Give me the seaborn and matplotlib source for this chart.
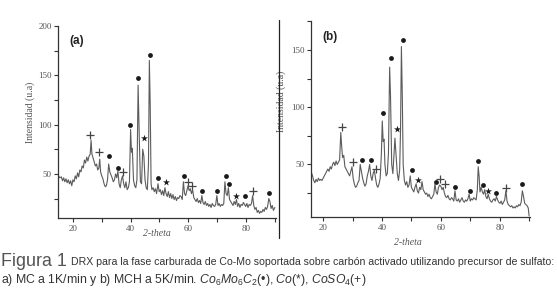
import numpy as np
import pandas as pd
import seaborn as sns
import matplotlib.pyplot as plt
from matplotlib.lines import Line2D

# 1. Pattern (a): MC a 1K/min
a_x = [15.0, 15.5, 16.0, 16.4, 16.8, 17.2, 17.6, 18.0, 18.4, 18.8, 19.2, 19.6, 20.0, 20.4, 20.8,
       21.2, 21.6, 22.0, 22.4, 22.8, 23.2, 23.6, 24.0, 24.4, 24.8, 25.2, 25.6, 26.0, 26.3, 26.6,
       27.0, 27.4, 27.8, 28.2, 28.6, 29.0, 29.3, 29.6, 30.0, 30.4, 30.8, 31.2, 31.6, 32.0, 32.4,
       32.8, 33.2, 33.6, 34.0, 34.4, 34.8, 35.2, 35.6, 36.0, 36.4, 36.8, 37.2, 37.6, 38.0, 38.4,
       38.8, 39.2, 39.6, 40.0, 40.3, 40.6, 41.0, 41.4, 41.8, 42.2, 42.6, 43.0, 43.4, 43.8, 44.2,
       44.6, 45.0, 45.4, 45.8, 46.2, 46.5, 46.8, 47.1, 47.4, 47.8, 48.2, 48.6, 49.0, 49.5, 49.9,
       50.3, 50.7, 51.1, 51.5, 51.9, 52.3, 52.7, 53.1, 53.5, 53.9, 54.3, 54.7, 55.1, 55.5, 55.9,
       56.3, 56.7, 57.1, 57.5, 57.9, 58.3, 58.7, 59.1, 59.5, 59.9, 60.3, 60.7, 61.1, 61.5, 61.9,
       62.3, 62.7, 63.1, 63.5, 63.9, 64.3, 64.7, 65.1, 65.5, 65.9, 66.3, 66.7, 67.1, 67.5, 67.9,
       68.3, 68.7, 69.1, 69.5, 69.9, 70.3, 70.7, 71.1, 71.5, 71.9, 72.3, 72.7, 73.1, 73.5, 73.9,
       74.3, 74.7, 75.1, 75.5, 75.9, 76.3, 76.7, 77.1, 77.5, 77.9, 78.3, 78.7, 79.1, 79.5, 79.9,
       80.3, 80.7, 81.1, 81.5, 81.9, 82.3, 82.7, 83.1, 83.5, 83.9, 84.3, 84.7, 85.1, 85.5, 85.9,
       86.3, 86.7, 87.1, 87.5, 87.9, 88.3, 88.7, 89.1, 89.5, 90.0]
a_y = [48, 46, 47, 43, 46, 42, 45, 41, 44, 40, 43, 38, 44, 42, 48,
       45, 51, 47, 54, 52, 58, 56, 64, 61, 67, 63, 68, 70, 84, 70,
       66, 62, 58, 60, 54, 56, 65, 52, 48, 45, 40, 37, 38, 44, 60,
       52, 49, 46, 42, 44, 50, 46, 53, 40, 36, 44, 48, 40, 36, 42,
       34, 36, 42, 95, 72, 76, 44, 38, 36, 44, 140, 88, 42, 40, 75,
       68, 44, 36, 34, 60, 165, 120, 40, 34, 36, 32, 35, 30, 40, 32,
       34, 29, 33, 28, 36, 30, 27, 32, 26, 30, 25, 29, 24, 27, 23,
       26, 25, 28, 27, 24, 42, 30, 28, 33, 38, 33, 35, 30, 34, 26,
       24, 22, 25, 21, 23, 20, 28, 21, 19, 22, 18, 20, 17, 19, 16,
       20, 18, 17, 19, 28, 18, 20, 17, 19, 18, 20, 42, 30, 28, 36,
       24, 22, 20, 18, 22, 19, 24, 17, 20, 16, 19, 18, 21, 19, 17,
       20, 16, 19, 18, 20, 28, 18, 14, 16, 11, 13, 10, 12, 11, 14,
       12, 16, 14, 17, 25, 22, 15, 18, 13, 16]

# 2. Pattern (b): MCH a 5K/min
b_x = [16.0, 16.4, 16.8, 17.2, 17.6, 18.0, 18.4, 18.8, 19.2, 19.6, 20.0, 20.4, 20.8, 21.2, 21.6,
       22.0, 22.4, 22.8, 23.2, 23.6, 24.0, 24.4, 24.8, 25.2, 25.6, 26.0, 26.3, 26.6, 27.0, 27.4,
       27.8, 28.2, 28.6, 29.0, 29.4, 29.8, 30.2, 30.6, 31.0, 31.4, 31.8, 32.2, 32.6, 33.0, 33.4,
       33.8, 34.2, 34.6, 35.0, 35.4, 35.8, 36.2, 36.6, 37.0, 37.4, 37.8, 38.2, 38.6, 39.0, 39.4,
       39.8, 40.1, 40.4, 40.7, 41.0, 41.4, 41.8, 42.2, 42.6, 42.9, 43.3, 43.7, 44.1, 44.4, 44.8,
       45.2, 45.6, 46.0, 46.3, 46.6, 46.9, 47.2, 47.6, 48.0, 48.4, 48.8, 49.2, 49.6, 50.0, 50.4,
       50.8, 51.2, 51.6, 52.0, 52.4, 52.8, 53.2, 53.6, 54.0, 54.4, 54.8, 55.2, 55.6, 56.0, 56.4,
       56.8, 57.2, 57.6, 58.0, 58.4, 58.8, 59.2, 59.6, 60.0, 60.4, 60.8, 61.2, 61.6, 62.0, 62.4,
       62.8, 63.2, 63.6, 64.0, 64.4, 64.8, 65.2, 65.6, 66.0, 66.4, 66.8, 67.2, 67.6, 68.0, 68.4,
       68.8, 69.2, 69.6, 70.0, 70.4, 70.8, 71.2, 71.6, 72.0, 72.4, 72.7, 73.0, 73.3, 73.7, 74.1,
       74.5, 74.9, 75.3, 75.7, 76.1, 76.5, 76.9, 77.3, 77.7, 78.1, 78.5, 78.9, 79.3, 79.7, 80.1,
       80.5, 80.9, 81.3, 81.7, 82.1, 82.5, 82.9, 83.3, 83.7, 84.1, 84.5, 84.9, 85.3, 85.7, 86.1,
       86.5, 86.9, 87.3, 87.7, 88.1, 88.5, 88.9, 89.3, 89.7, 90.0]
b_y = [43, 40, 36, 34, 37, 35, 38, 36, 37, 36, 38, 40, 42, 44, 46,
       44, 48, 46, 50, 52, 49, 53, 50, 52, 54, 78, 66, 56, 58, 48,
       46, 44, 42, 40, 44, 48, 38, 33, 30, 31, 34, 36, 50, 44, 38,
       34, 31, 33, 40, 44, 50, 40, 36, 42, 45, 38, 32, 30, 33, 38,
       60, 88, 70, 72, 50, 40, 42, 60, 135, 110, 50, 42, 60, 73, 58,
       42, 36, 45, 80, 153, 110, 50, 36, 32, 35, 30, 32, 40, 30, 28,
       26, 30, 33, 27, 25, 30, 28, 35, 28, 26, 24, 25, 22, 24, 21,
       20, 22, 24, 33, 26, 24, 30, 32, 31, 28, 30, 25, 22, 21, 23,
       20, 19, 21, 20, 18, 27, 19, 18, 20, 17, 19, 21, 18, 17, 19,
       18, 20, 24, 18, 20, 19, 21, 20, 19, 28, 48, 40, 26, 30, 26,
       24, 28, 22, 20, 24, 20, 18, 17, 19, 20, 18, 22, 19, 17, 16,
       18, 15, 17, 19, 27, 18, 15, 14, 13, 14, 12, 13, 12, 14, 13,
       15, 14, 17, 27, 22, 16, 15, 14, 12, 5]

# 3. Phase markers: Co6Mo6C2 (circle), Co (star), CoSO4 (plus)
a_circ_x = [32.5, 35.6, 39.8, 42.5, 46.7, 49.6, 58.5, 64.7, 70.0, 73.0, 74.1, 79.6, 88.0]
a_circ_y = [68.5, 56, 100, 147, 170.6, 45.6, 48, 32.8, 32.8, 48, 39.5, 27.7, 30.4]
a_star_x = [44.6, 52.2, 76.5]
a_star_y = [86, 42, 27.7]
a_plus_x = [25.9, 29.0, 37.3, 60.0, 61.3, 82.3]
a_plus_y = [89.5, 72.6, 52, 42, 38, 32.8]

b_circ_x = [33.3, 36.4, 40.5, 43.2, 47.0, 50.3, 58.2, 64.7, 69.8, 72.6, 74.2, 78.7, 87.6]
b_circ_y = [54, 54, 95, 143, 159, 45, 35, 30, 27, 53, 32, 25, 33]
b_star_x = [45.0, 52.3, 76.0]
b_star_y = [81, 36, 27]
b_plus_x = [26.4, 30.1, 38.0, 59.6, 61.3, 82.1]
b_plus_y = [83, 52, 46, 37, 33, 29]

sns.set_style("ticks")
plt.rcParams["mathtext.fontset"] = "custom"
plt.rcParams["mathtext.it"] = "Liberation Sans:italic"
plt.rcParams["mathtext.rm"] = "Liberation Sans"

fig = plt.figure(figsize=(5.57, 2.97), dpi=100)
ax_a = fig.add_axes([0.105, 0.265, 0.391, 0.648])
ax_b = fig.add_axes([0.559, 0.269, 0.392, 0.659])

tick_font = dict(family="Liberation Serif", size=6.5, color="#555555")

panels = [
    (ax_a, a_x, a_y, a_circ_x, a_circ_y, a_star_x, a_star_y, a_plus_x, a_plus_y,
     (15, 90.5), (5, 200), [50, 100, 150, 200], "(a)"),
    (ax_b, b_x, b_y, b_circ_x, b_circ_y, b_star_x, b_star_y, b_plus_x, b_plus_y,
     (16, 90.2), (4, 175), [50, 100, 150], "(b)"),
]

for ax, px, py, cx, cy, sx, sy, qx, qy, xlim, ylim, yt, tag in panels:
    df = pd.DataFrame({"x": px, "y": py})
    sns.lineplot(data=df, x="x", y="y", ax=ax, color="#5c5c5c", linewidth=0.8,
                 estimator=None, sort=False)
    sns.scatterplot(x=cx, y=cy, ax=ax, marker="o", s=12, color="#1a1a1a", linewidth=0)
    sns.scatterplot(x=sx, y=sy, ax=ax, marker="*", s=28, color="#1a1a1a", linewidth=0)
    sns.scatterplot(x=qx, y=qy, ax=ax, marker="+", s=34, color="#444444", linewidth=0.9)

    ax.set_xlim(*xlim)
    ax.set_ylim(*ylim)
    ax.set_xticks([20, 40, 60, 80])
    ax.set_xticks([30, 50, 70, 90], minor=True)
    ax.set_yticks(yt)
    ax.set_yticks([25, 75, 125, 175], minor=True)
    ax.set_xticklabels([str(v) for v in [20, 40, 60, 80]], fontdict=tick_font)
    ax.set_yticklabels([str(v) for v in yt], fontdict=tick_font)
    ax.tick_params(axis="both", which="both", direction="out", length=3, width=0.8,
                   colors="#333333", labelcolor="#555555", pad=2)
    for spine in ["top", "right"]:
        ax.spines[spine].set_visible(False)
    for spine in ["left", "bottom"]:
        ax.spines[spine].set_color("#333333")
        ax.spines[spine].set_linewidth(0.9)
    ax.set_ylabel("Intensidad (u.a)", family="Liberation Serif", fontsize=7, color="#555555")
    ax.set_xlabel("2-theta", family="Liberation Serif", style="italic", fontsize=7,
                  color="#555555")
    ax.text(0.05, 0.92, tag, transform=ax.transAxes, family="Liberation Sans",
            fontweight="bold", fontsize=8.5, color="#222222", va="center")

ax_a.yaxis.set_label_coords(-0.11, 0.55)
ax_a.xaxis.set_label_coords(0.45, -0.055)
ax_b.yaxis.set_label_coords(-0.115, 0.59)
ax_b.xaxis.set_label_coords(0.443, -0.105)

# separator between the two panels
fig.add_artist(Line2D([0.501, 0.501], [0.199, 0.933], transform=fig.transFigure,
                      color="#222222", linewidth=0.9))

# caption, shrunk to the width it takes in the reference
cap_font = ["Liberation Sans", "DejaVu Sans"]
t0 = fig.text(0.001, 0.118, "Figura 1", family=cap_font, fontsize=9.0, color="#555555",
              va="center")
t1 = fig.text(0.128, 0.118,
              "DRX para la fase carburada de Co-Mo soportada sobre carbón activado utilizando precursor de sulfato:",
              family=cap_font, fontsize=7.0, color="#333333", va="center")
t2 = fig.text(0.001, 0.057,
              r"a) MC a 1K/min y b) MCH a 5K/min. $\mathit{Co_6Mo_6C_2}$(•), $\mathit{Co}$(*), $\mathit{CoSO_4}$(+)",
              family=cap_font, fontsize=7.0, color="#333333", va="center")

for _ in range(4):
    fig.canvas.draw()
    renderer = fig.canvas.get_renderer()
    for txt, width_px in [(t0, 66), (t1, 480), (t2, 364)]:
        w = txt.get_window_extent(renderer).width
        txt.set_fontsize(txt.get_fontsize() * width_px / w)

plt.savefig("out.png", dpi=100)
